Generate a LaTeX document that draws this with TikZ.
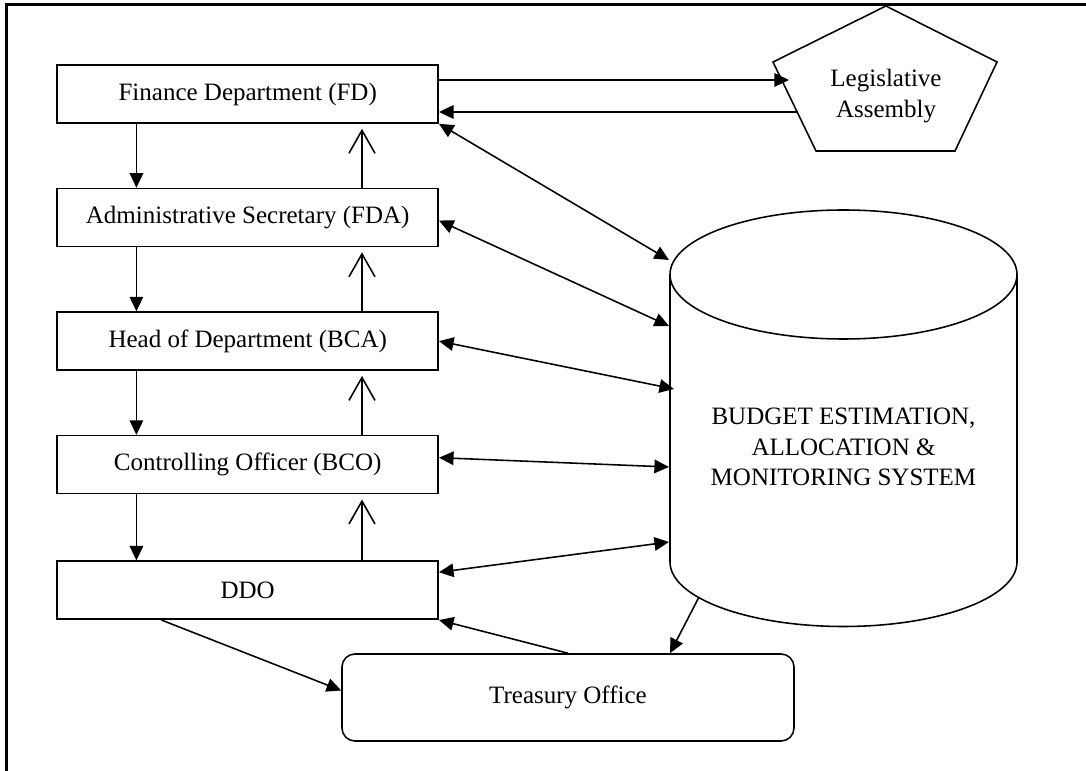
\documentclass[tikz,border=0pt]{standalone}
\usepackage{fontspec}
\setmainfont{Liberation Serif}
\usetikzlibrary{arrows.meta,calc,positioning}

\newcommand{\unitpx}{0.48pt}

\tikzset{
  line/.style={line width=0.75pt},
  box/.style={draw, line, inner sep=0pt, minimum width=381*\unitpx, minimum height=58*\unitpx},
  tri/.style={line, -{Triangle[length=7pt,width=6.5pt]}},
  both/.style={line, {Triangle[length=7pt,width=6.5pt]}-{Triangle[length=7pt,width=6.5pt]}},
  vee/.style={line, -{Straight Barb[length=11pt,width=12.5pt]}}
}

\begin{document}
\begin{tikzpicture}[x=\unitpx, y=-\unitpx, font=\fontsize{12pt}{14.5pt}\selectfont]
\useasboundingbox (0,0) rectangle (1086,771);
\draw[line width=1.4pt] (6.5,771) -- (6.5,4.7) -- (1086,4.7);

\node[box] (fd) at (247.7,94) {Finance Department (FD)};
\node[box, below=64*\unitpx of fd] (as) {Administrative Secretary (FDA)};
\node[box, below=64*\unitpx of as] (hod) {Head of Department (BCA)};
\node[box, below=64*\unitpx of hod] (co) {Controlling Officer (BCO)};
\node[box, below=66*\unitpx of co] (ddo) {DDO};

\draw[line] (886,6) -- (997,62) -- (955,151) -- (816,151) -- (773,62) -- cycle;
\node[align=center] (leg) at (886,96) {Legislative\\Assembly};

\draw[line] (670,274.5) -- (670,562) arc[start angle=180, end angle=0, x radius=173.5, y radius=64.5] -- (1017,274.5);
\draw[line] (843.5,274.5) ellipse [x radius=173.5, y radius=64.5];
\node[align=center] (db) at (843.5,447) {BUDGET ESTIMATION,\\ALLOCATION \&\\MONITORING SYSTEM};

\node[draw, line, rounded corners=6.2pt, minimum width=452*\unitpx, minimum height=87*\unitpx] (tre) at (568,697.5) {Treasury Office};

\coordinate (lin) at (789,80);
\coordinate (lout) at (797,112);
\coordinate (c1) at (669,260);
\coordinate (c2) at (669,326);
\coordinate (c3) at (674,389);
\coordinate (c4) at (669,467);
\coordinate (c5) at (669,542);
\coordinate (c6) at (699,597);

\draw[tri] (fd.east |- lin) -- (lin);
\draw[tri] (lout) -- (fd.east |- lout);

\draw[both] (fd.south east) -- (c1);
\draw[both] ($(as.east)+(0,3)$) -- (c2);
\draw[both] (hod.east) -- (c3);
\draw[both] ($(co.east)+(0,-7)$) -- (c4);
\draw[both] ($(ddo.east)+(0,-18)$) -- (c5);

\draw[tri] (c6) -- ($(tre.north)+(102,0)$);
\draw[tri] ($(ddo.south west)+(105,0)$) -- ($(tre.west)+(0,-7)$);
\draw[tri] (tre.north) -- (ddo.south east);

\foreach \a/\b in {fd/as,as/hod,hod/co,co/ddo} {
\draw[tri] ($(\a.south west)+(80,0)$) -- ($(\b.north west)+(80,0)$);
\draw[vee] ($(\b.north east)+(-77,0)$) -- ($(\a.south east)+(-77,5)$);
}
\end{tikzpicture}
\end{document}
